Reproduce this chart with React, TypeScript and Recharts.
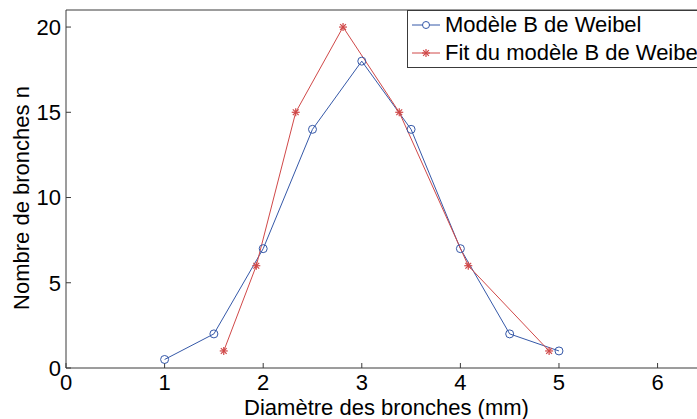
import React from 'react'
import { LineChart, Line, XAxis, YAxis, Legend, Label } from 'recharts'

// Modèle B de Weibel
const weibelX = [1, 1.5, 2, 2.5, 3, 3.5, 4, 4.5, 5]
const weibelN = [0.5, 2, 7, 14, 18, 14, 7, 2, 1]

// Fit du modèle
const fitX = [1.6, 1.93, 2.33, 2.81, 3.38, 4.08, 4.9]
const fitN = [1, 6, 15, 20, 15, 6, 1]

const xTicks = [0, 1, 2, 3, 4, 5, 6]
const yTicks = [0, 5, 10, 15, 20]

const BLUE = '#3558a8'
const RED = '#d04848'
const AXIS = '#3a3a3a'
const FONT = '"Liberation Sans", Arial, sans-serif'
const FS = 22

const weibelData = weibelX.map((x, i) => ({ x, n: weibelN[i] }))
const fitData = fitX.map((x, i) => ({ x, n: fitN[i] }))

const Asterisk = (props: any) => {
  const { cx, cy } = props
  if (cx == null || cy == null) return null
  const r = 4
  const d = 2.9
  return (
    <g stroke={RED} strokeWidth={1.2}>
      <line x1={cx - r} y1={cy} x2={cx + r} y2={cy} />
      <line x1={cx} y1={cy - r} x2={cx} y2={cy + r} />
      <line x1={cx - d} y1={cy - d} x2={cx + d} y2={cy + d} />
      <line x1={cx - d} y1={cy + d} x2={cx + d} y2={cy - d} />
    </g>
  )
}

const legendItems = [
  { name: 'Modèle B de Weibel', color: BLUE, marker: 'circle' },
  { name: 'Fit du modèle B de Weibel', color: RED, marker: 'star' },
]

const renderLegend = () => (
  <div style={{ border: `1px solid ${AXIS}`, background: '#fff', width: 330 }}>
    {legendItems.map((it) => (
      <div key={it.name} style={{ display: 'flex', alignItems: 'center', height: 28 }}>
        <svg width={37} height={28}>
          <line x1={4} y1={14} x2={32} y2={14} stroke={it.color} strokeWidth={1} />
          {it.marker === 'circle'
            ? <circle cx={18} cy={14} r={3.5} fill="#fff" stroke={it.color} strokeWidth={1} />
            : <Asterisk cx={18} cy={14} />}
        </svg>
        <span style={{ fontFamily: FONT, fontSize: FS, color: '#000', whiteSpace: 'nowrap' }}>{it.name}</span>
      </div>
    ))}
  </div>
)

const App = () => {
  return (
    <div style={{ position: 'absolute', left: 0, top: 0, width: 697, height: 419, overflow: 'hidden', background: '#fff' }}>
      <LineChart width={697} height={419} margin={{ top: 9, right: 0, bottom: 0, left: 0 }}>
        <XAxis
          dataKey="x"
          type="number"
          domain={[0, 6.4]}
          ticks={xTicks}
          allowDataOverflow
          height={51}
          tickSize={-5}
          tickMargin={11}
          stroke={AXIS}
          tick={{ fill: '#000', fontSize: FS, fontFamily: FONT }}
        >
          <Label
            content={(p: any) => {
              const vb = p.viewBox
              return (
                <text x={vb.x + vb.width / 2 + 5} y={415} textAnchor="middle" fontSize={FS} fontFamily={FONT} fill="#000">
                  Diamètre des bronches (mm)
                </text>
              )
            }}
          />
        </XAxis>
        <XAxis
          xAxisId="top"
          orientation="top"
          dataKey="x"
          type="number"
          domain={[0, 6.4]}
          ticks={xTicks}
          allowDataOverflow
          height={1}
          tickSize={-5}
          tick={false}
          stroke={AXIS}
        />
        <YAxis
          type="number"
          domain={[0, 21]}
          ticks={yTicks}
          allowDataOverflow
          width={66}
          tickSize={-5}
          tickMargin={10}
          stroke={AXIS}
          tick={{ fill: '#000', fontSize: FS, fontFamily: FONT }}
        >
          <Label
            content={(p: any) => {
              const vb = p.viewBox
              const cx = 21
              const cy = vb.y + vb.height / 2 + 9
              return (
                <text x={cx} y={cy} transform={`rotate(-90, ${cx}, ${cy})`} textAnchor="middle" dominantBaseline="central" fontSize={FS} fontFamily={FONT} fill="#000">
                  Nombre de bronches n
                </text>
              )
            }}
          />
        </YAxis>
        <Legend
          layout="vertical"
          align="center"
          verticalAlign="middle"
          content={renderLegend}
          wrapperStyle={{ position: 'absolute', left: 407, top: 10, width: 330 }}
        />
        <Line
          data={weibelData}
          dataKey="n"
          name="Modèle B de Weibel"
          stroke={BLUE}
          strokeWidth={1}
          dot={{ r: 4, fill: 'none', stroke: BLUE, strokeWidth: 1 }}
          activeDot={false}
          isAnimationActive={false}
        />
        <Line
          data={fitData}
          dataKey="n"
          name="Fit du modèle B de Weibel"
          stroke={RED}
          strokeWidth={1}
          dot={<Asterisk />}
          activeDot={false}
          isAnimationActive={false}
        />
      </LineChart>
    </div>
  )
}

export default App
